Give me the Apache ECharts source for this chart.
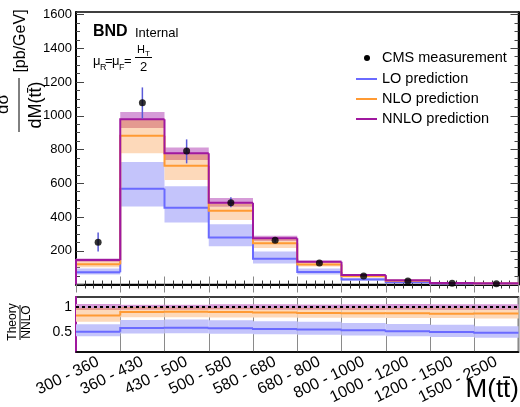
<!DOCTYPE html>
<html><head><meta charset="utf-8">
<script src="https://cdn.jsdelivr.net/npm/echarts@6/dist/echarts.min.js"></script>
<style>html,body{margin:0;padding:0;background:#fff}#c{width:520px;height:407px}</style>
</head><body><div id="c"></div>
<script>
// ---- data ----
const categories = ['300 - 360','360 - 430','430 - 500','500 - 580','580 - 680','680 - 800','800 - 1000','1000 - 1200','1200 - 1500','1500 - 2500'];
const cmsValue = [250, 1077, 791, 485, 262, 127, 50, 21, 7, 5];
const cmsHigh  = [308, 1168, 860, 517, 273, 133, 53, 23, 8, 6];
const cmsLow   = [195, 984, 718, 458, 251, 121, 47, 19, 6, 4];
const nnlo     = [145, 979, 778, 485, 274, 135, 56, 25, 9, 7];
const nnloUp   = [154, 1022, 812, 512, 289, 142, 59, 26.5, 9.5, 7.4];
const nnloDown = [136, 928, 738, 462, 260, 128, 53, 23.7, 8.5, 6.6];
const nlo      = [120, 881, 704, 437, 244, 119, 49, 21.9, 7.8, 6.1];
const nloUp    = [142, 980, 772, 478, 269, 132, 55, 24.5, 8.8, 6.8];
const nloDown  = [102, 778, 620, 383, 216, 106, 44, 19.5, 7.0, 5.4];
const lo       = [73, 568, 455, 279, 153, 74, 30, 12.9, 4.5, 3.4];
const loUp     = [95, 726, 583, 357, 196, 95, 38, 16.5, 5.8, 4.3];
const loDown   = [60, 462, 368, 226, 124, 60, 24, 10.4, 3.6, 2.7];
const yTicksMain = [200, 400, 600, 800, 1000, 1200, 1400, 1600];
const yTicksRatio = [0.5, 1];

const FONT = '"Liberation Sans", Arial, Helvetica, sans-serif';
const COL = {lo:'#6a6aff', loBand:'#c4c4fb', nlo:'#ff9a33', nloBand:'#fdd9ba',
             nnlo:'#a0189f', nnloBand:'#d69bd8', overlap:'#e49a90', err:'#5a5ad8'};

const ratio = (a) => a.map((v, i) => v / nnlo[i]);

function bandSeries(xi, yi, down, up, color, z) {
  return {type:'custom', xAxisIndex:xi, yAxisIndex:yi, z, silent:true,
    data: down.map((d, i) => [i, d, up[i]]), encode:{x:0, y:1},
    renderItem(params, api) {
      const i = api.value(0), d = api.value(1), u = api.value(2);
      if (!(u > d)) return null;
      const a = api.coord([i, d]), b = api.coord([i + 1, u]);
      return {type:'rect', shape:{x:a[0], y:b[1], width:b[0]-a[0], height:a[1]-b[1]}, style:{fill:color}};
    }};
}
function stepSeries(xi, yi, vals, color, width, z, startZero) {
  return {type:'custom', xAxisIndex:xi, yAxisIndex:yi, z, silent:true,
    data: vals.map((v, i) => [i, v, i > 0 ? vals[i-1] : (startZero ? 0 : v)]), encode:{x:0, y:1},
    renderItem(params, api) {
      const i = api.value(0);
      const p0 = api.coord([i, api.value(2)]);
      const p1 = api.coord([i, api.value(1)]);
      const p2 = api.coord([i + 1, api.value(1)]);
      return {type:'polyline', shape:{points:[p0, p1, p2]}, style:{stroke:color, lineWidth:width, fill:null}};
    }};
}
const ovDown = nnloDown.map((v, i) => Math.max(v, nloDown[i]));
const ovUp = nnloUp.map((v, i) => Math.min(v, nloUp[i]));
const rOvDown = ratio(ovDown), rOvUp = ratio(ovUp);

const chart = echarts.init(document.getElementById('c'), null, {renderer:'canvas'});
const mainX = (pos) => ({gridIndex:0, type:'value', min:0, max:10, interval:1, position:pos,
  axisLine:{show:true, lineStyle:{color:'#000', width:1.5}},
  axisTick:{show:true, inside:true, length:8, lineStyle:{color:'#888', width:1}},
  minorTick:{show:true, splitNumber:5, length:4, lineStyle:{color:'#333', width:1}},
  axisLabel:{show:false}, splitLine:{show:false}});
const mainY = (pos, interval, len, labels) => ({gridIndex:0, type:'value', min:0, max:1615, interval, position:pos,
  axisLine:{show:true, lineStyle:{color:'#000', width:1.5}},
  axisTick:{show:true, inside:true, length:len, lineStyle:{color:'#444', width:1}},
  axisLabel:{show:labels, margin:4, fontSize:13, fontFamily:FONT, color:'#000',
    formatter:(v) => yTicksMain.includes(v) ? String(v) : ''},
  splitLine:{show:false}});

chart.setOption({
  animation:false,
  backgroundColor:'#fff',
  grid:[
    {left:76, top:12, width:442.5, height:272.5, show:true, borderColor:'#000', borderWidth:1.5, backgroundColor:'transparent', containLabel:false, outerBoundsMode:'none'},
    {left:76, top:297, width:442.5, height:55, show:true, borderColor:'#000', borderWidth:1.5, backgroundColor:'transparent', containLabel:false, outerBoundsMode:'none'}
  ],
  xAxis:[
    mainX('bottom'),
    mainX('top'),
    {gridIndex:1, type:'value', min:0, max:10, interval:1, position:'bottom',
      axisLine:{show:true, lineStyle:{color:'#000', width:1.5}}, axisTick:{show:false}, axisLabel:{show:false},
      splitLine:{show:true, lineStyle:{color:'#8a8a8a', width:1}}},
    {gridIndex:1, type:'category', data:categories, position:'bottom', boundaryGap:true,
      axisLine:{show:false}, axisTick:{show:false}, splitLine:{show:false},
      axisLabel:{show:true, interval:0, rotate:26, margin:9, fontSize:16, fontFamily:FONT, color:'#000', hideOverlap:false}}
  ],
  yAxis:[
    mainY('left', 200, 8, true),
    mainY('left', 50, 4, false),
    mainY('right', 200, 8, false),
    mainY('right', 50, 4, false),
    {gridIndex:1, type:'value', min:0.1, max:1.2, interval:0.1, position:'left',
      axisLine:{show:true, lineStyle:{color:COL.nnlo, width:2}}, axisTick:{show:false},
      axisLabel:{show:true, margin:4, fontSize:14, fontFamily:FONT, color:'#000',
        formatter:(v) => { const t = yTicksRatio.find(x => Math.abs(x - v) < 1e-6); return t === undefined ? '' : String(t); }},
      splitLine:{show:false}}
  ],
  series:[
    // main panel
    bandSeries(0, 0, loDown, loUp, COL.loBand, 1),
    bandSeries(0, 0, nloDown, nloUp, COL.nloBand, 2),
    bandSeries(0, 0, nnloDown, nnloUp, COL.nnloBand, 3),
    bandSeries(0, 0, ovDown, ovUp, COL.overlap, 4),
    stepSeries(0, 0, lo, COL.lo, 2, 5, false),
    stepSeries(0, 0, nlo, COL.nlo, 2, 6, false),
    stepSeries(0, 0, nnlo, COL.nnlo, 2, 7, true),
    {type:'custom', xAxisIndex:0, yAxisIndex:0, z:8, silent:true,
      data: cmsValue.map((v, i) => [i + 0.5, cmsLow[i], cmsHigh[i]]), encode:{x:0, y:1},
      renderItem(params, api) {
        const a = api.coord([api.value(0), api.value(1)]), b = api.coord([api.value(0), api.value(2)]);
        return {type:'line', shape:{x1:a[0], y1:a[1], x2:b[0], y2:b[1]}, style:{stroke:COL.err, lineWidth:1.5}};
      }},
    {type:'scatter', xAxisIndex:0, yAxisIndex:0, z:9, silent:true, symbol:'circle', symbolSize:7,
      itemStyle:{color:'#000'}, data: cmsValue.map((v, i) => [i + 0.5, v])},
    // ratio panel
    bandSeries(2, 4, ratio(loDown), ratio(loUp), COL.loBand, 1),
    bandSeries(2, 4, ratio(nloDown), ratio(nloUp), COL.nloBand, 2),
    bandSeries(2, 4, ratio(nnloDown), ratio(nnloUp), COL.nnloBand, 3),
    bandSeries(2, 4, rOvDown, rOvUp, COL.overlap, 4),
    stepSeries(2, 4, ratio(lo), COL.lo, 2, 5, false),
    stepSeries(2, 4, ratio(nlo), COL.nlo, 2, 6, false),
    {type:'line', xAxisIndex:2, yAxisIndex:4, z:7, silent:true, symbol:'none',
      data: [[0, 1], [10, 1]], lineStyle:{color:'#000', width:2, type:[3, 3]}}
  ],
  graphic:[
    // y-axis title (main)
    {type:'text', x:3, y:104, rotation:Math.PI/2, style:{text:'dσ', fontSize:17, fontFamily:FONT, fill:'#000', textAlign:'center', textVerticalAlign:'middle'}},
    {type:'line', shape:{x1:19, y1:78, x2:19, y2:132}, style:{stroke:'#000', lineWidth:1}},
    {type:'text', x:36, y:105, rotation:Math.PI/2, style:{text:'dM(tt\u0304)', fontSize:18, fontFamily:FONT, fill:'#000', textAlign:'center', textVerticalAlign:'middle'}},
    {type:'text', x:21, y:41, rotation:Math.PI/2, style:{text:'[pb/GeV]', fontSize:16, fontFamily:FONT, fill:'#000', textAlign:'center', textVerticalAlign:'middle'}},
    // y-axis title (ratio)
    {type:'text', x:13, y:322, rotation:Math.PI/2, style:{text:'Theory', fontSize:12, fontFamily:FONT, fill:'#000', textAlign:'center', textVerticalAlign:'middle'}},
    {type:'line', shape:{x1:20, y1:305, x2:20, y2:340}, style:{stroke:'#000', lineWidth:1}},
    {type:'text', x:27, y:322, rotation:Math.PI/2, style:{text:'NNLO', fontSize:12, fontFamily:FONT, fill:'#000', textAlign:'center', textVerticalAlign:'middle'}},
    // x-axis title
    {type:'text', x:519, y:390, style:{text:'M(tt\u0304)', fontSize:26, fontFamily:FONT, fill:'#000', textAlign:'right', textVerticalAlign:'middle'}},
    // BND Internal
    {type:'text', x:93, y:32, style:{text:'BND', fontSize:16, fontWeight:'bold', fontFamily:FONT, fill:'#000', textAlign:'left', textVerticalAlign:'middle'}},
    {type:'text', x:135, y:33, style:{text:'Internal', fontSize:13, fontFamily:FONT, fill:'#000', textAlign:'left', textVerticalAlign:'middle'}},
    // mu_R = mu_F = H_T / 2
    {type:'text', x:93, y:61, style:{text:'μ', fontSize:13, fontFamily:FONT, fill:'#000', textAlign:'left', textVerticalAlign:'middle'}},
    {type:'text', x:100, y:68, style:{text:'R', fontSize:9, fontFamily:FONT, fill:'#000', textAlign:'left', textVerticalAlign:'middle'}},
    {type:'text', x:105, y:61, style:{text:'=', fontSize:13, fontFamily:FONT, fill:'#000', textAlign:'left', textVerticalAlign:'middle'}},
    {type:'text', x:112, y:61, style:{text:'μ', fontSize:13, fontFamily:FONT, fill:'#000', textAlign:'left', textVerticalAlign:'middle'}},
    {type:'text', x:119, y:68, style:{text:'F', fontSize:9, fontFamily:FONT, fill:'#000', textAlign:'left', textVerticalAlign:'middle'}},
    {type:'text', x:124, y:61, style:{text:'=', fontSize:13, fontFamily:FONT, fill:'#000', textAlign:'left', textVerticalAlign:'middle'}},
    {type:'text', x:137, y:50, style:{text:'H', fontSize:11, fontFamily:FONT, fill:'#000', textAlign:'left', textVerticalAlign:'middle'}},
    {type:'text', x:145, y:54, style:{text:'T', fontSize:8, fontFamily:FONT, fill:'#000', textAlign:'left', textVerticalAlign:'middle'}},
    {type:'line', shape:{x1:135, y1:57.5, x2:152, y2:57.5}, style:{stroke:'#000', lineWidth:1}},
    {type:'text', x:140, y:67, style:{text:'2', fontSize:13, fontFamily:FONT, fill:'#000', textAlign:'left', textVerticalAlign:'middle'}},
    // legend
    {type:'circle', shape:{cx:367, cy:58, r:3}, style:{fill:'#000'}},
    {type:'text', x:382, y:58, style:{text:'CMS measurement', fontSize:14.5, fontFamily:FONT, fill:'#000', textAlign:'left', textVerticalAlign:'middle'}},
    {type:'line', shape:{x1:356, y1:79, x2:377, y2:79}, style:{stroke:COL.lo, lineWidth:2}},
    {type:'text', x:382, y:79, style:{text:'LO prediction', fontSize:14.5, fontFamily:FONT, fill:'#000', textAlign:'left', textVerticalAlign:'middle'}},
    {type:'line', shape:{x1:356, y1:99, x2:377, y2:99}, style:{stroke:COL.nlo, lineWidth:2}},
    {type:'text', x:382, y:99, style:{text:'NLO prediction', fontSize:14.5, fontFamily:FONT, fill:'#000', textAlign:'left', textVerticalAlign:'middle'}},
    {type:'line', shape:{x1:356, y1:119, x2:377, y2:119}, style:{stroke:COL.nnlo, lineWidth:2}},
    {type:'text', x:382, y:119, style:{text:'NNLO prediction', fontSize:14.5, fontFamily:FONT, fill:'#000', textAlign:'left', textVerticalAlign:'middle'}}
  ]
});
</script></body></html>
